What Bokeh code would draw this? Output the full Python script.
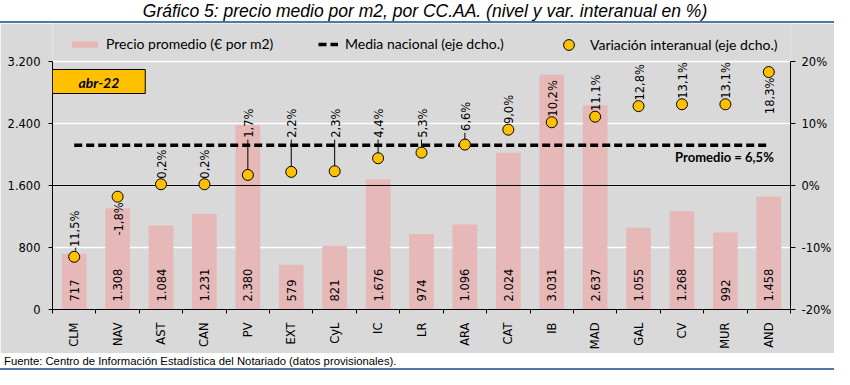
import math
from bokeh.plotting import figure
from bokeh.models import (Range1d, LinearAxis, FixedTicker, ColumnDataSource, Label,
                          Legend, LegendItem, Div)
from bokeh.layouts import column
from bokeh.embed import file_html
from bokeh.resources import INLINE
from bokeh.core.properties import value

# ---------------- data ----------------
categories = ["CLM", "NAV", "AST", "CAN", "PV", "EXT", "CyL", "IC", "LR", "ARA",
              "CAT", "IB", "MAD", "GAL", "CV", "MUR", "AND"]
price = [717, 1308, 1084, 1231, 2380, 579, 821, 1676, 974, 1096,
         2024, 3031, 2637, 1055, 1268, 992, 1458]
variation = [-11.5, -1.8, 0.2, 0.2, 1.7, 2.2, 2.3, 4.4, 5.3, 6.6,
             9.0, 10.2, 11.1, 12.8, 13.1, 13.1, 18.3]
national_avg = 6.5
left_ticks = [0, 800, 1600, 2400, 3200]
right_ticks = [-20, -10, 0, 10, 20]
period = "abr-22"
title_text = "Gráfico 5: precio medio por m2, por CC.AA. (nivel y var. interanual en %)"
source_text = "Fuente: Centro de Información Estadística del Notariado (datos provisionales)."
legend_labels = ["Precio promedio (€ por m2)", "Media nacional (eje dcho.)",
                 "Variación interanual (eje dcho.)"]
# label placement style for each point label
label_mode = ["above", "below", "above", "above", "leader", "leader", "leader", "leader",
              "leader", "leader", "above", "above", "above", "above", "above", "above", "below"]

# ---------------- styles / layout ----------------
GRAY = "#D9D9D9"
BAR = "#E6B9B8"
DOT = "#FFC000"
BLUE = "#4F77A8"
AX_FONT = "DejaVu Sans"
LEG_FONT = "Lato"
W = 834
TITLE_H = 23
FOOT_H = 16
MAIN_H = 330
BOTTOM_PANEL = 44
FRAME_H = MAIN_H - BOTTOM_PANEL   # frame height in px (includes legend strip on top)
TOP_STRIP = 38                    # px of frame above the top tick (legend strip)
AXIS_H = FRAME_H - TOP_STRIP      # px spanned by the axes (0..3200)
LEG_Y = FRAME_H - 21              # legend centre line, px above frame bottom


def fmt_thousands(v):
    return f"{v:,}".replace(",", ".")


def fmt_pct(v):
    return f"{v:.1f}".replace(".", ",") + "%"


n = len(categories)
xs = list(range(n))

# ---------------- title ----------------
title_div = Div(
    text=(f'<div style="width:{W}px;height:{TITLE_H}px;box-sizing:border-box;'
          f'border-bottom:2px solid {BLUE};text-align:center;padding-left:16px;'
          f'padding-top:2px;font-family:\'Liberation Sans\',sans-serif;font-style:italic;'
          f'font-size:17.5px;line-height:19px;color:#000;white-space:nowrap;">'
          f'{title_text}</div>'),
    width=W, height=TITLE_H, margin=0)

# ---------------- main figure ----------------
y_top = left_ticks[-1] * FRAME_H / AXIS_H
pct_top = right_ticks[0] + (right_ticks[-1] - right_ticks[0]) * FRAME_H / AXIS_H
p = figure(width=W, height=MAIN_H, x_range=Range1d(-0.5, n - 0.5),
           y_range=Range1d(left_ticks[0], y_top),
           toolbar_location=None, output_backend="svg",
           min_border_left=52, min_border_right=39, min_border_top=0,
           min_border_bottom=BOTTOM_PANEL,
           background_fill_color=GRAY, border_fill_color=GRAY, outline_line_color=None)
p.extra_y_ranges = {"pct": Range1d(right_ticks[0], pct_top)}

# grid
p.xgrid.visible = False
p.ygrid.ticker = FixedTicker(ticks=left_ticks)
p.ygrid.grid_line_color = "white"
p.ygrid.grid_line_width = 1.5

# x axis
xa = p.xaxis[0]
xa.ticker = FixedTicker(ticks=xs, minor_ticks=[i - 0.5 for i in range(n + 1)])
xa.major_label_overrides = {i: c for i, c in enumerate(categories)}
xa.major_label_orientation = math.pi / 2
xa.major_tick_line_color = None
xa.major_tick_out = 0
xa.major_tick_in = 0
xa.minor_tick_out = 4
xa.minor_tick_in = 0
xa.minor_tick_line_color = "#000000"
xa.axis_line_color = "#000000"
xa.major_label_standoff = 9
xa.major_label_text_font = AX_FONT
xa.major_label_text_font_size = "11.5px"
xa.major_label_text_color = "#000000"

# left axis
ya = p.yaxis[0]
ya.ticker = FixedTicker(ticks=left_ticks)
ya.bounds = (left_ticks[0], left_ticks[-1])
ya.major_label_overrides = {v: fmt_thousands(v) for v in left_ticks}
ya.minor_tick_line_color = None
ya.major_tick_out = 4
ya.major_tick_in = 0
ya.axis_line_color = "#000000"
ya.major_tick_line_color = "#000000"
ya.major_label_standoff = 8
ya.major_label_text_font = AX_FONT
ya.major_label_text_font_size = "11.5px"
ya.major_label_text_color = "#000000"

# right axis
ra = LinearAxis(y_range_name="pct", ticker=FixedTicker(ticks=right_ticks),
                bounds=(right_ticks[0], right_ticks[-1]),
                major_label_overrides={v: f"{v}%" for v in right_ticks})
ra.minor_tick_line_color = None
ra.major_tick_out = 5
ra.major_tick_in = 0
ra.axis_line_color = "#000000"
ra.major_tick_line_color = "#000000"
ra.major_label_standoff = 6
ra.major_label_text_font = AX_FONT
ra.major_label_text_font_size = "11.5px"
ra.major_label_text_color = "#000000"
p.add_layout(ra, "right")

# bars
src = ColumnDataSource(dict(x=xs, price=price, plabel=[fmt_thousands(v) for v in price],
                            zero=[0] * n))
bars = p.vbar(x="x", top="price", width=0.57, source=src, fill_color=BAR, line_color=None)
p.text(x="x", y="zero", text="plabel", source=src, angle=math.pi / 2, y_offset=-8,
       text_align="left", text_baseline="middle", text_font=value(AX_FONT),
       text_font_size="11.5px", text_color="#000000")

# zero line of right axis
p.segment(x0=[-0.5], y0=[0], x1=[n - 0.5], y1=[0], y_range_name="pct",
          line_color="#000000", line_width=1)

# national average dashed line
avg_line = p.line(x=[xs[0], xs[-1]], y=[national_avg, national_avg], y_range_name="pct",
                  line_color="#000000", line_width=3.5, line_dash="8 4")

# point labels & leaders
lab_y, lab_align, seg_x, seg_y0, seg_y1 = [], [], [], [], []
for i, (v, m) in enumerate(zip(variation, label_mode)):
    if m == "above":
        lab_y.append(v + 0.9)
        lab_align.append("left")
    elif m == "below":
        lab_y.append(v - 0.9)
        lab_align.append("right")
    else:
        b = max(national_avg + 1.2, v + 2.2)
        lab_y.append(b)
        lab_align.append("left")
        seg_x.append(i)
        seg_y0.append(v)
        seg_y1.append(b - 0.3)
p.segment(x0=seg_x, y0=seg_y0, x1=seg_x, y1=seg_y1, y_range_name="pct",
          line_color="#000000", line_width=1)

dsrc = ColumnDataSource(dict(x=xs, v=variation, ly=lab_y, al=lab_align,
                             vl=[fmt_pct(v) for v in variation]))
dots = p.scatter(x="x", y="v", source=dsrc, y_range_name="pct", size=11,
                 fill_color=DOT, line_color="#000000", line_width=1)
p.text(x="x", y="ly", text="vl", source=dsrc, y_range_name="pct", angle=math.pi / 2,
       x_offset=1, text_align="al", text_baseline="middle", text_font=value(AX_FONT),
       text_font_size="11.5px", text_color="#000000")

# "Promedio" label
p.add_layout(Label(x=xs[-1], y=national_avg, y_range_name="pct", x_offset=5, y_offset=-12,
                   text=f"Promedio = {fmt_pct(national_avg)}", text_align="right",
                   text_baseline="middle", text_font=LEG_FONT, text_font_style="bold",
                   text_font_size="13px", text_color="#000000"))

# period box
p.add_layout(Label(x=-0.5, y=left_ticks[-1], x_offset=0, y_offset=-8,
                   text=period, text_align="left", text_baseline="top",
                   text_font=LEG_FONT, text_font_style="bold italic", text_font_size="14px",
                   text_color="#000000", background_fill_color=DOT,
                   border_line_color="#000000", border_line_width=1,
                   padding=dict(left=26, right=26, top=4, bottom=3)))

# legends (inside the top strip of the frame)
common = dict(orientation="horizontal", background_fill_alpha=0, border_line_color=None,
              padding=0, margin=0, spacing=0, label_text_font=LEG_FONT,
              label_text_font_size="14px", label_text_color="#000000", label_height=16)
lg1 = Legend(items=[LegendItem(label=legend_labels[0], renderers=[bars])],
             location=(16, LEG_Y - 8), glyph_width=33, glyph_height=8, label_standoff=5,
             **common)
lg2 = Legend(items=[LegendItem(label=legend_labels[1], renderers=[avg_line])],
             location=(266, LEG_Y - 8), glyph_width=20, glyph_height=16, label_standoff=7,
             **common)
lg3 = Legend(items=[LegendItem(label=legend_labels[2], renderers=[dots])],
             location=(503, LEG_Y - 14), glyph_width=27, glyph_height=27, label_standoff=8,
             **common)
for lg in (lg1, lg2, lg3):
    p.add_layout(lg)

# ---------------- footnote ----------------
foot_div = Div(
    text=(f'<div style="width:{W}px;height:{FOOT_H}px;box-sizing:border-box;'
          f'border-bottom:2px solid {BLUE};padding-left:4px;padding-top:1px;'
          f'font-family:\'Liberation Sans\',sans-serif;font-size:11.3px;line-height:13px;'
          f'color:#000;white-space:nowrap;">{source_text}</div>'),
    width=W, height=FOOT_H, margin=0)

layout = column(title_div, p, foot_div, spacing=0)
open("out.html", "w").write(file_html(layout, INLINE))
